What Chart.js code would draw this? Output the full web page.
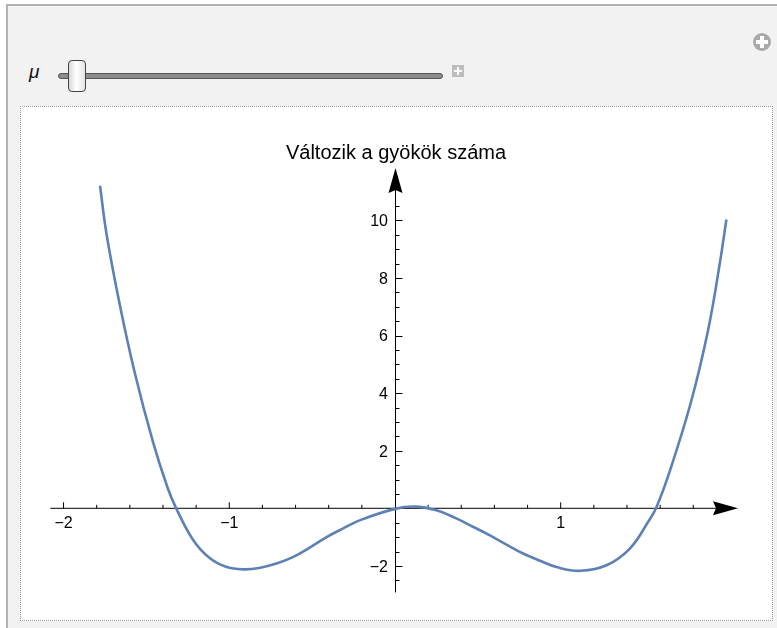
<!DOCTYPE html>
<html>
<head>
<meta charset="utf-8">
<title>Változik a gyökök száma</title>
<script src="https://cdn.jsdelivr.net/npm/chart.js@4.4.1/dist/chart.umd.min.js"></script>
<style>
  html, body { margin: 0; padding: 0; background: #fff; overflow: hidden; }
  body { width: 777px; height: 628px; position: relative; font-family: "Liberation Sans", Arial, sans-serif; }
  #panel {
    position: absolute; left: 6px; top: 4px; right: -10px; bottom: -10px;
    background: #f2f2f2; border-left: 2px solid #b2b2b2; border-top: 2px solid #b2b2b2;
  }
  #mu { position: absolute; left: 29px; top: 61px; font-size: 19px; font-style: italic; color: #111; }
  #track {
    position: absolute; left: 58px; top: 73px; width: 383px; height: 4px;
    background: #8c8c8c; border: 1px solid #555; border-radius: 3px;
  }
  #thumb {
    position: absolute; left: 68px; top: 60px; width: 16px; height: 30px;
    border: 1px solid #444; border-radius: 4px;
    background: linear-gradient(to right, #d8d8d8, #ffffff 45%, #e4e4e4);
  }
  #plus {
    position: absolute; left: 452px; top: 65px; width: 12px; height: 12px; background: #bdbdbd;
  }
  #plus::before, #plus::after, #addBtn::before, #addBtn::after { content: ""; position: absolute; background: #fff; }
  #plus::before { left: 5px; top: 2px; width: 2px; height: 8px; }
  #plus::after { left: 2px; top: 5px; width: 8px; height: 2px; }
  #addBtn {
    position: absolute; left: 753px; top: 33px; width: 18px; height: 18px; border-radius: 50%; background: #a9a9a9;
  }
  #addBtn::before { left: 7px; top: 3px; width: 4px; height: 12px; }
  #addBtn::after { left: 3px; top: 7px; width: 12px; height: 4px; }
  #plotBox {
    position: absolute; left: 20px; top: 106px; width: 753px; height: 515px;
    box-sizing: border-box; background: #fff; border: 1px dotted #9a9a9a;
  }
  #chart { position: absolute; left: 0; top: 0; }
</style>
</head>
<body>
<div id="panel"></div>
<div id="mu">μ</div>
<div id="track"></div>
<div id="thumb"></div>
<div id="plus"></div>
<div id="addBtn"></div>
<div id="plotBox"></div>
<canvas id="chart" width="777" height="628"></canvas>
<script>
// curve samples (x, f(x))
const xValues = [-1.78, -1.74, -1.66, -1.57, -1.46, -1.37, -1.32, -1.22, -1.12, -1.02, -0.91, -0.82,
  -0.71, -0.61, -0.51, -0.41, -0.31, -0.21, 0.0, 0.12, 0.25, 0.37, 0.47, 0.57, 0.67, 0.77, 0.88,
  0.98, 1.12, 1.28, 1.42, 1.53, 1.575, 1.66, 1.79, 1.89, 1.96, 2.0];
const yValues = [11.2, 9.5, 7.05, 4.7, 2.3, 0.68, 0, -1.08, -1.72, -2.03, -2.12, -2.07,
  -1.91, -1.68, -1.35, -0.99, -0.69, -0.41, -0.02, 0.06, -0.07, -0.35, -0.64, -0.93, -1.25, -1.56, -1.83,
  -2.05, -2.17, -1.97, -1.38, -0.45, 0, 1.32, 3.77, 6.2, 8.5, 10.03];

// labelled ticks
const xTickLabels = [-2, -1, 1];
const yTickLabels = [-2, 2, 4, 6, 8, 10];

const plotTitle = 'Változik a gyökök száma';

function fmt(v) {
  return v < 0 ? '\u2212' + Math.abs(v) : String(v);
}

function arrowHead(ctx, tipX, tipY, dx, dy) {
  // dx, dy: unit direction of the arrow
  const len = 25, half = 7, notch = 3;
  const bx = tipX - dx * len, by = tipY - dy * len;
  const nx = -dy, ny = dx;
  ctx.beginPath();
  ctx.moveTo(tipX, tipY);
  ctx.lineTo(bx + nx * half, by + ny * half);
  ctx.lineTo(bx + dx * notch, by + dy * notch);
  ctx.lineTo(bx - nx * half, by - ny * half);
  ctx.closePath();
  ctx.fill();
}

// axes through the origin, with arrows and inward ticks
const originAxes = {
  id: 'originAxes',
  beforeDatasetsDraw(chart) {
    const { ctx, chartArea: a, scales: { x, y } } = chart;
    const x0 = Math.round(x.getPixelForValue(0)) + 0.5;
    const y0 = y.getPixelForValue(0);
    ctx.save();
    ctx.strokeStyle = '#000';
    ctx.fillStyle = '#000';
    ctx.lineWidth = 1;

    // horizontal axis and its ticks (every 0.2)
    ctx.beginPath();
    ctx.moveTo(a.left, y0);
    ctx.lineTo(a.right - 20, y0);
    for (let i = -10; i <= 9; i++) {
      if (i === 0) continue;
      const px = x.getPixelForValue(i / 5);
      ctx.moveTo(px, y0);
      ctx.lineTo(px, y0 - (i % 5 === 0 ? 6 : 3.5));
    }
    ctx.stroke();

    // vertical axis and its ticks (every 0.5)
    ctx.beginPath();
    ctx.moveTo(x0, a.bottom);
    ctx.lineTo(x0, a.top + 20);
    for (let i = -5; i <= 21; i++) {
      if (i === 0) continue;
      const py = Math.round(y.getPixelForValue(i / 2)) + 0.5;
      ctx.moveTo(x0, py);
      ctx.lineTo(x0 + (i % 4 === 0 ? 7 : 4), py);
    }
    ctx.stroke();

    arrowHead(ctx, a.right, y0, 1, 0);
    arrowHead(ctx, x0, a.top, 0, -1);

    // tick labels
    ctx.font = '16px "Liberation Sans", Arial, sans-serif';
    ctx.textBaseline = 'alphabetic';
    ctx.textAlign = 'center';
    xTickLabels.forEach(v => {
      ctx.fillText(fmt(v), x.getPixelForValue(v), y0 + 20);
    });
    ctx.textAlign = 'right';
    yTickLabels.forEach(v => {
      ctx.fillText(fmt(v), x0 - 7.5, y.getPixelForValue(v) + 5.8);
    });

    // plot label
    ctx.font = '20px "Liberation Sans", Arial, sans-serif';
    ctx.textAlign = 'center';
    ctx.fillText(plotTitle, 396, 159);
    ctx.restore();
  }
};

const ctx = document.getElementById('chart').getContext('2d');
const chart = new Chart(ctx, {
  type: 'scatter',
  data: {
    datasets: [{
      data: xValues.map((v, i) => ({ x: v, y: yValues[i] })),
      showLine: true,
      borderColor: '#5e81b5',
      borderWidth: 2.6,
      pointRadius: 0,
      tension: 0.4,
      fill: false
    }]
  },
  options: {
    responsive: false,
    animation: false,
    layout: { padding: { left: 50.3, right: 39, top: 167.9, bottom: 35.6 } },
    scales: {
      x: { type: 'linear', min: -2.08, max: 2.07, display: false },
      y: { type: 'linear', min: -2.92, max: 11.82, display: false }
    },
    plugins: {
      legend: { display: false },
      tooltip: { enabled: false }
    }
  },
  plugins: [originAxes]
});
</script>
</body>
</html>
